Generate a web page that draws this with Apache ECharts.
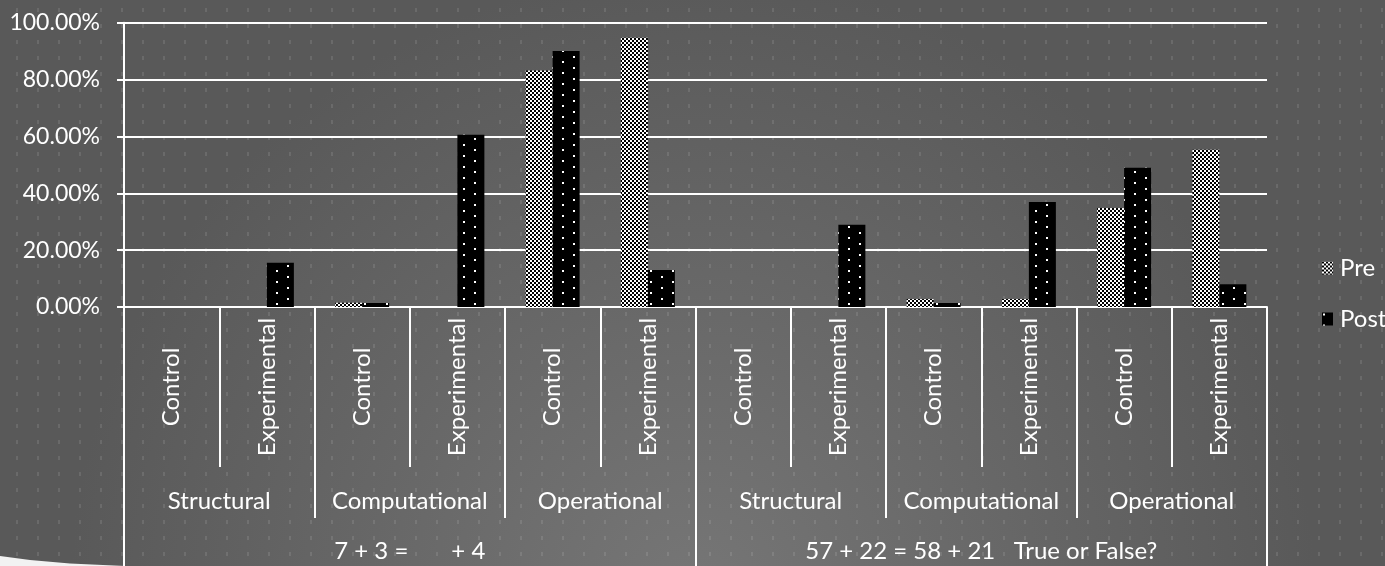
<!DOCTYPE html>
<html>
<head>
<meta charset="utf-8">
<script src="https://cdn.jsdelivr.net/npm/echarts@6/dist/echarts.min.js"></script>
<style>
  html, body { margin: 0; padding: 0; background: #606060; }
  #chart { width: 1385px; height: 566px; }
</style>
</head>
<body>
<div id="chart"></div>
<script>
// Innermost category level: group within each item type
const groups = ['Control', 'Experimental', 'Control', 'Experimental', 'Control', 'Experimental',
                'Control', 'Experimental', 'Control', 'Experimental', 'Control', 'Experimental'];
// Middle level: strategy type
const strategies = ['Structural', 'Computational', 'Operational', 'Structural', 'Computational', 'Operational'];
// Outer level: test item
const items = ['7 + 3 =       + 4', '57 + 22 = 58 + 21   True or False?'];

// Share of students (%) per bar
const preValues  = [0, 0, 1.5, 0, 83.2, 94.7, 0, 0, 2.8, 2.8, 34.8, 55.3];
const postValues = [0, 15.6, 1.4, 60.6, 90.1, 13.0, 0, 28.9, 1.4, 36.9, 49.0, 8.0];

const FONT = 'Lato';
const WHITE = '#ffffff';

// Fill tiles
function checkerTile() {
  const c = document.createElement('canvas');
  c.width = 4; c.height = 4;
  const g = c.getContext('2d');
  g.fillStyle = '#ffffff'; g.fillRect(0, 0, 4, 4);
  g.fillStyle = '#000000'; g.fillRect(0, 0, 2, 2); g.fillRect(2, 2, 2, 2);
  return c;
}
function dottedTile() {
  const c = document.createElement('canvas');
  c.width = 22; c.height = 22;
  const g = c.getContext('2d');
  g.fillStyle = '#000000'; g.fillRect(0, 0, 22, 22);
  g.fillStyle = '#ffffff';
  g.fillRect(1, 1, 2, 2); g.fillRect(12, 6, 2, 2);
  g.fillRect(1, 12, 2, 2); g.fillRect(12, 17, 2, 2);
  return c;
}
function gridDotTile() {
  const c = document.createElement('canvas');
  c.width = 21; c.height = 16;
  const g = c.getContext('2d');
  g.fillStyle = 'rgba(255,255,255,0.10)';
  g.fillRect(16, 8, 2, 4);
  return c;
}

const preFill = { image: checkerTile(), repeat: 'repeat' };
const postFill = { image: dottedTile(), repeat: 'repeat' };

const chart = echarts.init(document.getElementById('chart'), null, { renderer: 'canvas' });

const labelBase = { color: WHITE, fontFamily: FONT, fontSize: 24, interval: 0 };
const tickStyle = { color: WHITE, width: 2 };

chart.setOption({
  animation: false,
  graphic: {
    elements: [
      {
        type: 'rect', silent: true, z: -100,
        shape: { x: 0, y: 0, width: 1385, height: 566 },
        style: {
          fill: new echarts.graphic.RadialGradient(0.5, 1.05, 1.1, [
            { offset: 0, color: '#767676' },
            { offset: 1, color: '#595959' }
          ])
        }
      },
      {
        type: 'rect', silent: true, z: -99,
        shape: { x: 0, y: 0, width: 1385, height: 566 },
        style: { fill: { image: gridDotTile(), repeat: 'repeat' } }
      },
      {
        type: 'polygon', silent: true, z: -98,
        shape: { points: [[0, 556], [30, 560], [70, 563.5], [125, 566], [125, 567], [0, 567]] },
        style: { fill: '#f2f2f2' }
      }
    ]
  },
  grid: {
    left: 124, right: 118, top: 22.75, bottom: 259,
    containLabel: false, outerBoundsMode: 'none'
  },
  legend: {
    orient: 'vertical',
    left: 1317, top: 251,
    icon: 'rect',
    itemWidth: 11, itemHeight: 13, itemGap: 27,
    textStyle: { color: WHITE, fontFamily: FONT, fontSize: 24, padding: [0, 0, 0, 2] },
    data: ['Pre', 'Post']
  },
  xAxis: [
    {
      type: 'category', data: groups, position: 'bottom',
      axisLine: { show: true, lineStyle: tickStyle },
      axisTick: { show: true, interval: 0, length: 160, lineStyle: tickStyle },
      axisLabel: Object.assign({}, labelBase, { rotate: 90, align: 'center', verticalAlign: 'middle', margin: 80 }),
      splitLine: { show: false }
    },
    {
      type: 'category', data: strategies, position: 'bottom',
      axisLine: { show: false },
      axisTick: { show: true, interval: 0, length: 211, lineStyle: tickStyle },
      axisLabel: Object.assign({}, labelBase, { verticalAlign: 'middle', margin: 194 }),
      splitLine: { show: false }
    },
    {
      type: 'category', data: items, position: 'bottom',
      axisLine: { show: false },
      axisTick: { show: true, interval: 0, length: 262, lineStyle: tickStyle },
      axisLabel: Object.assign({}, labelBase, { verticalAlign: 'middle', margin: 244 }),
      splitLine: { show: false }
    }
  ],
  yAxis: {
    type: 'value', min: 0, max: 100, interval: 20,
    axisLine: { show: true, lineStyle: tickStyle },
    axisTick: { show: true, length: 7, lineStyle: tickStyle },
    axisLabel: {
      color: WHITE, fontFamily: FONT, fontSize: 23, margin: 24,
      formatter: v => v.toFixed(2) + '%'
    },
    splitLine: { show: true, lineStyle: { color: WHITE, width: 2 } }
  },
  series: [
    {
      name: 'Pre', type: 'bar', xAxisIndex: 0, data: preValues,
      barWidth: 27, barGap: '0%',
      itemStyle: { color: preFill }
    },
    {
      name: 'Post', type: 'bar', xAxisIndex: 0, data: postValues,
      barWidth: 27, barGap: '0%',
      itemStyle: { color: postFill }
    }
  ]
});
</script>
</body>
</html>
